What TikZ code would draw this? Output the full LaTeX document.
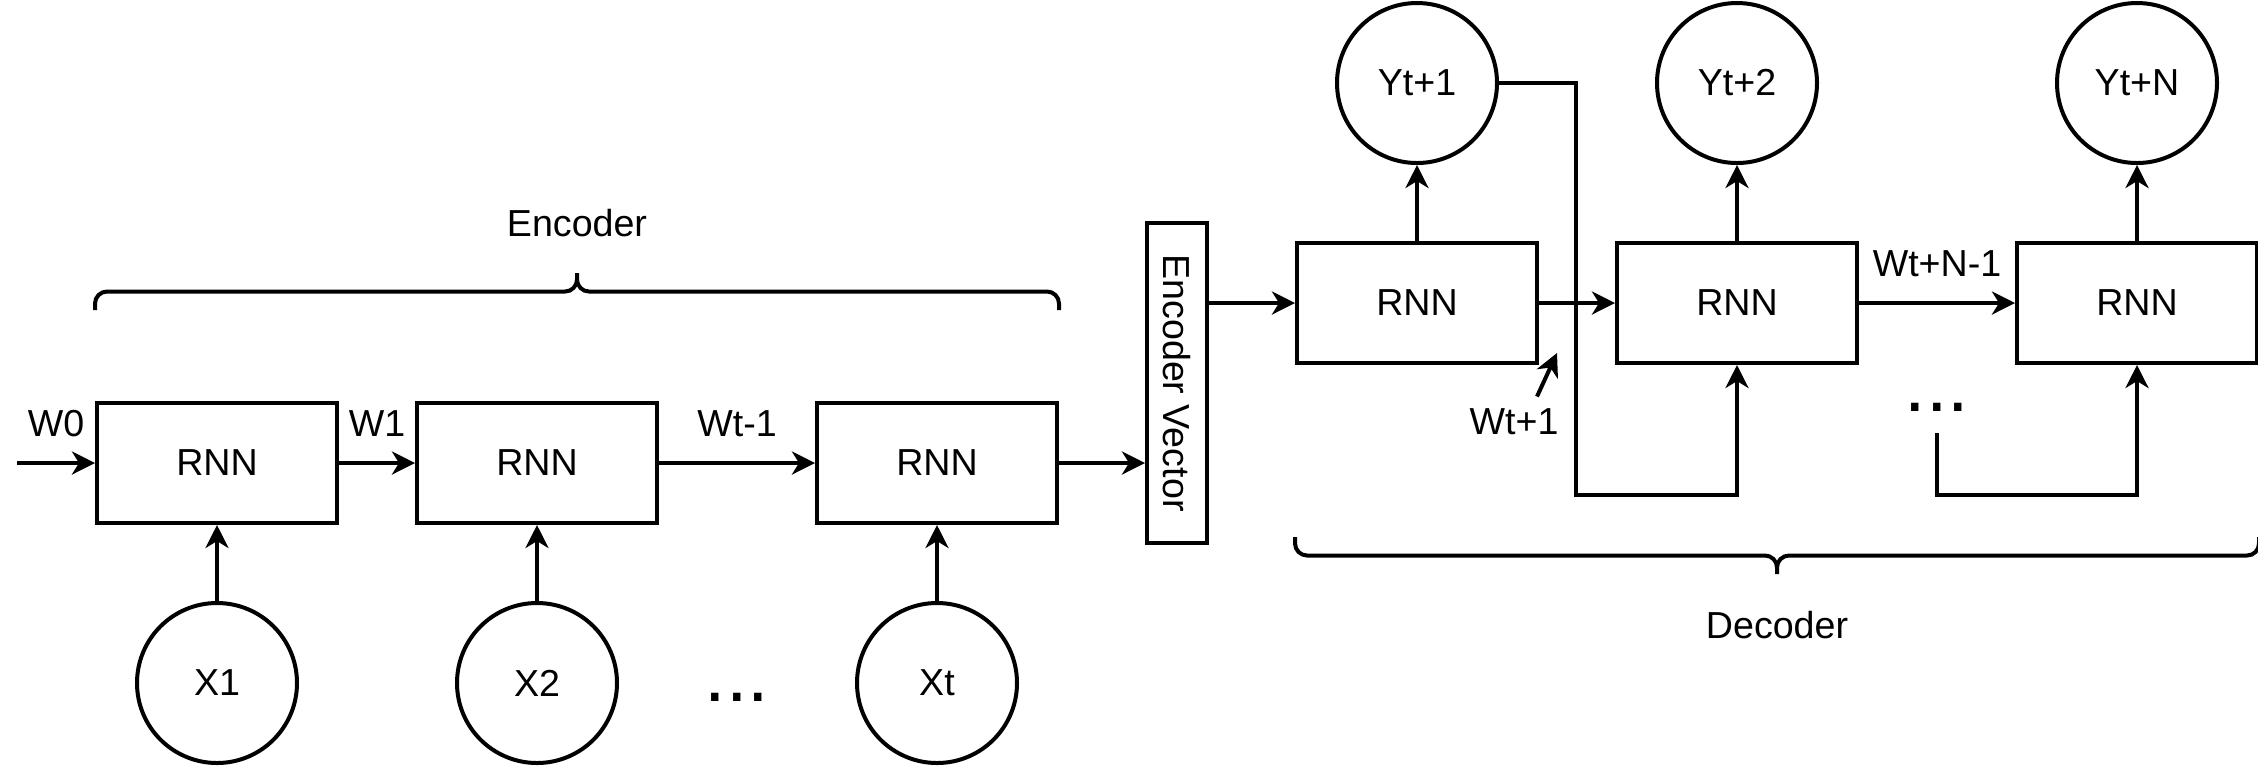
\documentclass[tikz,border=0pt]{standalone}
\usepackage{fontspec}
\setmainfont{Liberation Sans}
\usetikzlibrary{arrows.meta, calc}

\begin{document}
\begin{tikzpicture}[
        x=0.1mm, y=-0.1mm,
        every node/.style={font=\fontsize{10.7}{12.8}\selectfont},
        rnn/.style={draw, line width=0.4mm, minimum width=24mm, minimum height=12mm, inner sep=0pt},
        io/.style={draw, circle, line width=0.4mm, minimum size=16mm, inner sep=0pt},
        vec/.style={draw, line width=0.4mm, rotate=-90, minimum width=32mm, minimum height=6mm, inner sep=0pt},
        arr/.style={line width=0.4mm, -{Stealth[length=2.3mm, width=2.3mm, inset=0.7mm]}},
        brc/.style={line width=0.4mm, rounded corners=1.2mm},
        lbl/.style={midway, yshift=3.9mm},
        dots/.style={font=\fontsize{22}{26}\selectfont, inner sep=0pt}
      ]
      \useasboundingbox (0,0) rectangle (2258,766);
      \foreach \x/\t [count=\i] in {217/X1,537/X2,937/Xt} {
        \node[rnn] (e\i) at (\x,463) {RNN};
        \node[io] (x\i) at (\x,683) {\t};
        \draw[arr] (x\i) -- (e\i);
      }
      \foreach \x/\t [count=\i] in {1417/Yt+1,1737/Yt+2,2137/Yt+N} {
        \node[rnn] (d\i) at (\x,303) {RNN};
        \node[io] (y\i) at (\x,83) {\t};
        \draw[arr] (d\i) -- (y\i);
      }
      \node[vec] (ev) at (1177,383) {Encoder Vector};
      \node[dots] (ed) at (737,697) {...};
      \node[dots] (dd) at (1937,407) {...};
      \node (wl) at (1514,422) {Wt+1};
      \coordinate (w0) at (17,463);
      \coordinate (wt) at (1557,353);
      \coordinate (fb) at (1937,433);

      \draw[arr] (w0) -- (e1) node[lbl] (l0) {W0};
      \draw[arr] (e1) -- (e2) node[lbl] (l1) {W1};
      \draw[arr] (e2) -- (e3) node[lbl] (l2) {Wt-1};
      \draw[arr] (e3) -- (e3 -| ev.south);
      \draw[arr] (ev.north |- d1) -- (d1);
      \draw[arr] (d1) -- (d2);
      \draw[arr] (d2) -- (d3) node[lbl] (l3) {Wt+N-1};
      \draw[arr] (y1.east) -- ++(77,0) |- ([yshift=-13mm]d2.south) -- (d2.south);
      \draw[arr] (fb) |- ([yshift=-13mm]d3.south) -- (d3.south);
      \draw[arr] ([xshift=2.3mm]wl.north) -- (wt);

      \coordinate (ea) at ([yshift=9.1mm]e1.north west);
      \coordinate (eb) at ([yshift=9.1mm]e3.north east);
      \coordinate (et) at ([yshift=3.7mm]$(ea)!.5!(eb)$);
      \draw[brc] (ea) |- ([yshift=-1.85mm]et) -- (et)
        (et) |- ([yshift=1.85mm]eb) -- (eb);
      \node (encl) at ([yshift=5mm]et) {Encoder};

      \coordinate (da) at ([yshift=-17.2mm]d1.south west);
      \coordinate (db) at ([yshift=-17.2mm]d3.south east);
      \coordinate (dt) at ([yshift=-3.7mm]$(da)!.5!(db)$);
      \draw[brc] (da) |- ([yshift=1.85mm]dt) -- (dt)
        (dt) |- ([yshift=-1.85mm]db) -- (db);
      \node (decl) at ([yshift=-5.1mm]dt) {Decoder};
    \end{tikzpicture}
\end{document}
